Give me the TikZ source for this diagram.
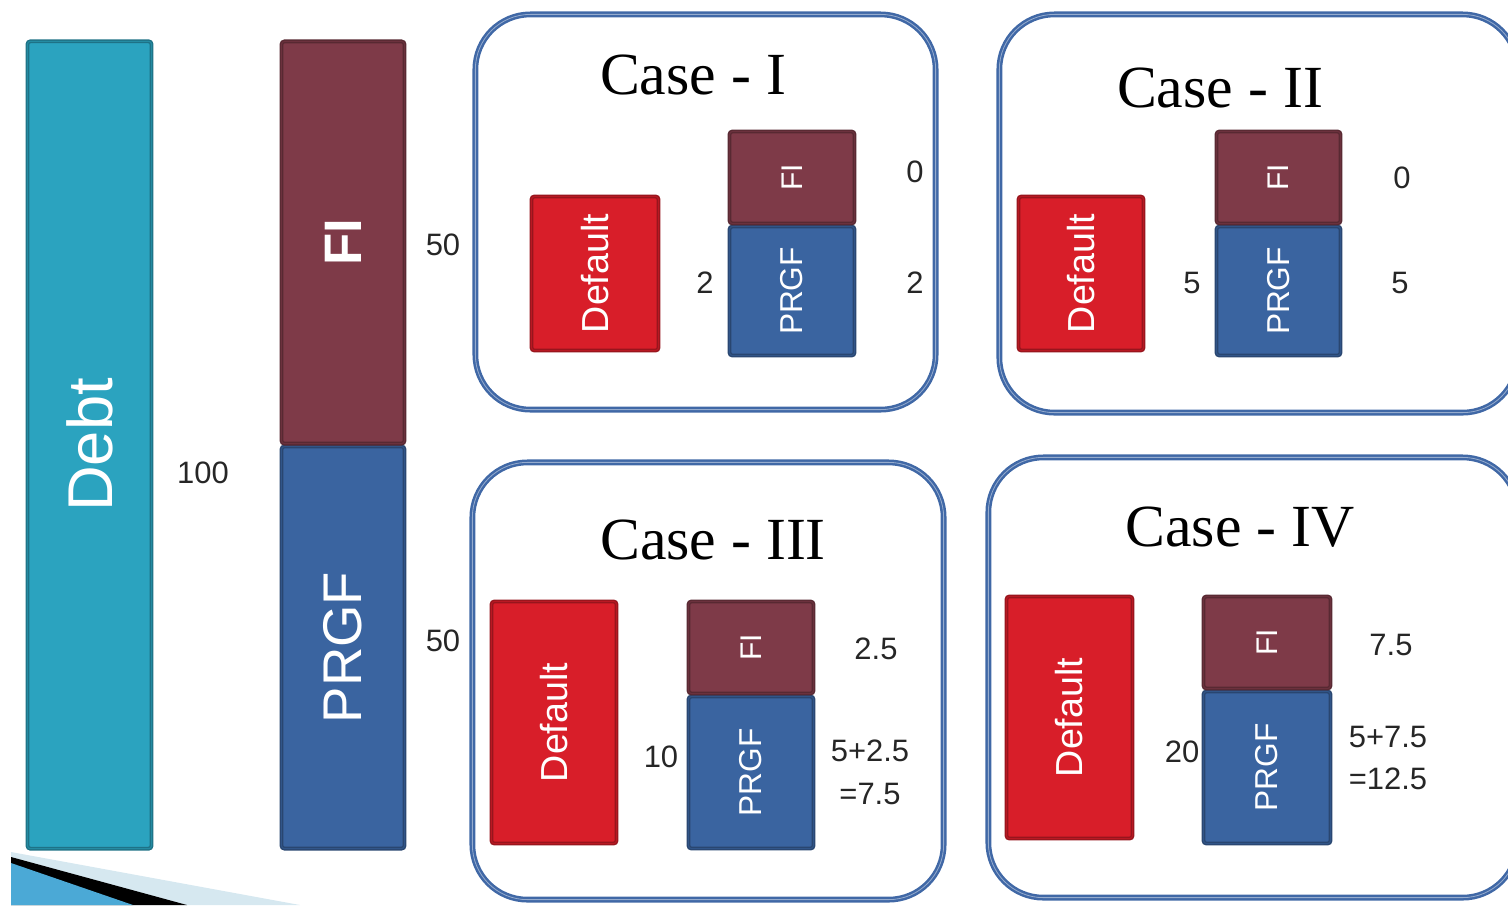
\documentclass[tikz,border=0pt]{standalone}
\usepackage{fontspec}
\setmainfont{Liberation Serif}
\setsansfont{Liberation Sans}
\definecolor{debtteal}{RGB}{43, 163, 191}
\definecolor{fimaroon}{RGB}{126, 58, 72}
\definecolor{prgfblue}{RGB}{58, 100, 160}
\definecolor{defaultred}{RGB}{216, 30, 41}
\definecolor{caseblue}{RGB}{64, 104, 166}
\definecolor{wedgeblue}{RGB}{75, 169, 214}
\definecolor{wedgelight}{RGB}{214, 232, 240}
\usetikzlibrary{positioning}
\tikzset{
  barbox/.style={rectangle, rotate=90, draw=#1!70!black, double=#1!85!black, line width=0.014cm, double distance=0.01cm, fill=#1, rounded corners=0.03cm, text=white, inner sep=0pt},
  casebox/.style={rectangle, draw=caseblue, double=caseblue!55, line width=0.025cm, double distance=0.008cm, rounded corners=0.55cm, inner sep=0pt},
  casetitle/.style={font=\rmfamily\fontsize{17}{20}\selectfont, inner sep=0pt},
  numlabel/.style={font=\sffamily\fontsize{8.8}{12.2}\selectfont, text=black!85, inner sep=0pt, align=center},
  bartext/.style={font=\sffamily\fontsize{#1}{#1}\selectfont},
  boldbartext/.style={font=\sffamily\bfseries\fontsize{#1}{#1}\selectfont},
}
\begin{document}
\begin{tikzpicture}[x=0.01cm, y=-0.01cm]
\useasboundingbox (0,0) rectangle (1508,905);
\clip (0,0) rectangle (1508,905);

% Slide corner
\fill[wedgelight] (11,852) -- (300,905) -- (11,905) -- cycle;
\fill[black] (11,857) -- (187,905) -- (11,905) -- cycle;
\fill[wedgeblue] (11,863) -- (133,905) -- (11,905) -- cycle;

% Debt and its split
\node[barbox=debtteal, minimum width=8.07cm, minimum height=1.24cm, bartext=18] (debt) at (89.5,445) {Debt};
\node[barbox=prgfblue, minimum width=4.02cm, minimum height=1.23cm, bartext=15.5] (prgf) at (343,647.5) {PRGF};
\node[barbox=fimaroon, minimum width=4.02cm, minimum height=1.23cm, boldbartext=15] (fi) at (343,242.5) {FI};
\node[numlabel] (debtval) at (203,473) {100};
\node[numlabel] (fival) at (443,245) {50};
\node[numlabel] (prgfval) at (443,641) {50};

% Case I
\node[casebox, minimum width=4.6cm, minimum height=3.95cm] (case1) at (705.5,212) {};
\node[casetitle] (title1) at (693,75) {Case - I};
\node[barbox=defaultred, minimum width=1.54cm, minimum height=1.27cm, bartext=10.7] (def1) at (595,273.5) {Default};
\node[barbox=prgfblue, minimum width=1.29cm, minimum height=1.25cm, bartext=9] (prgf1) at (792,291) {PRGF};
\node[barbox=fimaroon, minimum width=0.92cm, minimum height=1.25cm, bartext=8.5] (fi1) at (792,177.5) {FI};
\node[numlabel] (fi1val) at (915,172) {0};
\node[numlabel] (def1val) at (705,283) {2};
\node[numlabel] (prgf1val) at (915,283) {2};

% Case II
\node[casebox, minimum width=5.18cm, minimum height=3.98cm] (case2) at (1258.5,213.5) {};
\node[casetitle] (title2) at (1220,88) {Case - II};
\node[barbox=defaultred, minimum width=1.54cm, minimum height=1.25cm, bartext=10.7] (def2) at (1081,273.5) {Default};
\node[barbox=prgfblue, minimum width=1.29cm, minimum height=1.24cm, bartext=9] (prgf2) at (1278.5,291) {PRGF};
\node[barbox=fimaroon, minimum width=0.92cm, minimum height=1.24cm, bartext=8.5] (fi2) at (1278.5,177.5) {FI};
\node[numlabel] (fi2val) at (1402,178) {0};
\node[numlabel] (def2val) at (1192,283) {5};
\node[numlabel] (prgf2val) at (1400,283) {5};

% Case III
\node[casebox, minimum width=4.71cm, minimum height=4.37cm] (case3) at (708,681) {};
\node[casetitle] (title3) at (713,540) {Case - III};
\node[barbox=defaultred, minimum width=2.42cm, minimum height=1.25cm, bartext=10.7] (def3) at (554,722.5) {Default};
\node[barbox=prgfblue, minimum width=1.52cm, minimum height=1.25cm, bartext=9] (prgf3) at (751,772.5) {PRGF};
\node[barbox=fimaroon, minimum width=0.92cm, minimum height=1.25cm, bartext=8.5] (fi3) at (751,647.5) {FI};
\node[numlabel] (fi3val) at (876,649) {2.5};
\node[numlabel] (def3val) at (661,757) {10};
\node[numlabel] (prgf3val) at (870,772) {5+2.5\\=7.5};

% Case IV
\node[casebox, minimum width=5.29cm, minimum height=4.4cm] (case4) at (1253,677.5) {};
\node[casetitle] (title4) at (1240,527) {Case - IV};
\node[barbox=defaultred, minimum width=2.42cm, minimum height=1.26cm, bartext=10.7] (def4) at (1069.5,717.5) {Default};
\node[barbox=prgfblue, minimum width=1.52cm, minimum height=1.27cm, bartext=9] (prgf4) at (1267,767.5) {PRGF};
\node[barbox=fimaroon, minimum width=0.92cm, minimum height=1.27cm, bartext=8.5] (fi4) at (1267,642.5) {FI};
\node[numlabel] (fi4val) at (1391,645) {7.5};
\node[numlabel] (def4val) at (1182,752) {20};
\node[numlabel] (prgf4val) at (1388,758) {5+7.5\\=12.5};
\end{tikzpicture}
\end{document}
